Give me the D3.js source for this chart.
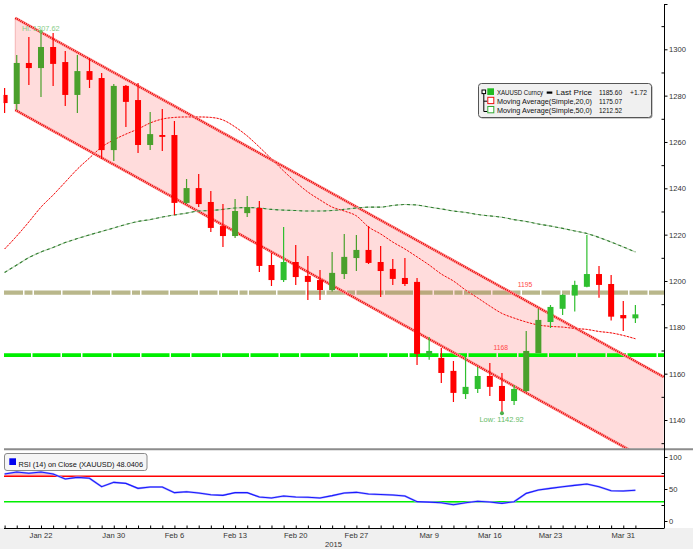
<!DOCTYPE html>
<html><head><meta charset="utf-8">
<script src="https://cdn.jsdelivr.net/npm/d3@7/dist/d3.min.js"></script>
<style>body{margin:0;background:#fff;}svg{display:block;}</style>
</head><body>
<svg id="chart" width="693" height="549"></svg>
<script>
// ---------------- DATA ----------------
const dates = ["2015-01-19","2015-01-20","2015-01-21","2015-01-22","2015-01-23","2015-01-26","2015-01-27","2015-01-28","2015-01-29","2015-01-30",
"2015-02-02","2015-02-03","2015-02-04","2015-02-05","2015-02-06","2015-02-09","2015-02-10","2015-02-11","2015-02-12","2015-02-13",
"2015-02-16","2015-02-17","2015-02-18","2015-02-19","2015-02-20","2015-02-23","2015-02-24","2015-02-25","2015-02-26","2015-02-27",
"2015-03-02","2015-03-03","2015-03-04","2015-03-05","2015-03-06","2015-03-09","2015-03-10","2015-03-11","2015-03-12","2015-03-13",
"2015-03-16","2015-03-17","2015-03-18","2015-03-19","2015-03-20","2015-03-23","2015-03-24","2015-03-25","2015-03-26","2015-03-27",
"2015-03-30","2015-03-31","2015-04-01"];
const open  = [1280.3,1276.4,1294.1,1291.9,1301.0,1294.5,1280.3,1290.6,1287.6,1256.5,1284.2,1278.1,1258.7,1263.0,1263.0,1233.7,1240.1,1234.1,1223.7,1219.4,
1229.3,1231.5,1206.9,1200.4,1208.2,1202.2,1200.4,1196.1,1203.0,1209.9,1213.4,1208.2,1205.2,1201.3,1199.6,1167.8,1166.8,1161.2,1151.2,1153.4,
1159.0,1154.7,1148.2,1152.5,1168.9,1182.3,1188.0,1193.7,1197.5,1203.0,1198.7,1185.3,1183.88];
const high  = [1283.3,1297.5,1305.3,1307.62,1307.0,1299.3,1297.5,1296.2,1289.8,1285.0,1284.6,1285.5,1272.9,1274.2,1269.1,1244.0,1246.2,1238.8,1233.2,1235.4,
1236.7,1234.5,1212.1,1223.3,1215.5,1210.8,1204.7,1212.5,1220.3,1219.9,1223.7,1215.1,1209.5,1209.9,1201.3,1175.8,1171.1,1165.5,1167.2,1162.9,
1164.6,1160.3,1155.1,1178.4,1187.9,1189.6,1194.3,1200.1,1219.9,1206.5,1202.6,1191.4,1189.6];
const low   = [1272.5,1273.8,1284.6,1279.4,1284.2,1275.5,1272.5,1283.3,1252.7,1251.8,1266.5,1255.2,1256.5,1256.1,1228.5,1233.2,1231.9,1221.1,1214.7,1218.6,
1227.6,1203.9,1197.8,1199.6,1198.3,1191.8,1191.8,1195.5,1200.9,1204.3,1207.3,1193.1,1198.3,1197.8,1163.7,1166.0,1156.0,1147.8,1149.1,1151.7,
1150.4,1142.92,1146.5,1152.0,1168.9,1179.7,1185.3,1186.8,1197.3,1192.8,1182.9,1178.4,1181.9];
const close = [1276.8,1294.1,1291.9,1301.0,1293.7,1280.3,1290.6,1286.8,1256.5,1284.2,1277.3,1258.7,1263.4,1262.2,1233.7,1240.1,1233.2,1222.9,1219.4,1230.2,
1231.9,1206.5,1200.4,1208.2,1201.7,1199.6,1196.1,1203.5,1210.4,1213.4,1207.8,1204.3,1200.9,1198.7,1168.5,1169.8,1160.3,1151.7,1154.3,1159.0,
1154.3,1148.2,1153.4,1169.8,1183.2,1188.8,1194.0,1198.3,1203.0,1198.3,1184.6,1183.88,1185.60];
// up-candles that Bloomberg draws in the darker green shade
const darkUpIdx = [1,3,6,9,12,15,19,20,27,28,29,43,44];
const ma20 = [1213.8,1219.4,1225.5,1231.9,1237.1,1242.7,1248.3,1253.1,1257.8,1260.9,1263.4,1265.6,1268.2,1269.9,1270.6,1270.8,1270.8,1270.6,1269.5,1266.5,
1262.6,1257.8,1252.7,1247.5,1242.7,1238.4,1235.0,1231.9,1230.2,1228.1,1223.3,1220.3,1216.8,1213.8,1210.4,1206.9,1203.0,1200.0,1196.1,1192.7,
1189.2,1186.0,1184.0,1182.3,1181.0,1180.4,1180.1,1179.5,1179.1,1178.2,1177.6,1176.5,1175.07];
const ma50 = [1203.7,1206.9,1210.1,1212.5,1214.5,1216.6,1218.3,1219.9,1221.4,1222.9,1224.4,1225.7,1226.5,1227.6,1228.5,1229.3,1230.2,1230.4,1230.9,1231.5,
1231.7,1231.5,1230.9,1230.6,1230.4,1230.2,1230.2,1230.4,1230.9,1231.5,1231.9,1231.9,1232.6,1233.0,1232.8,1231.9,1231.1,1230.2,1229.6,1228.7,
1228.1,1227.5,1226.5,1225.7,1224.6,1223.7,1222.7,1221.6,1220.5,1218.8,1216.8,1214.7,1212.52];
const rsi = [73.4,76.6,74.5,76.6,73.5,65.6,68.2,66.7,53.6,60.4,58.8,51.0,53.1,53.1,44.3,45.8,43.8,41.1,40.1,44.3,
44.3,37.5,35.9,39.1,37.5,37.0,35.9,39.6,43.8,44.8,42.2,41.5,40.6,39.1,30.2,29.5,28.6,25.5,28.6,30.8,
29.7,27.6,30.2,43.2,48.4,51.0,53.6,55.7,57.8,53.6,47.3,46.9,48.0406];
const priceTicks = [1140,1160,1180,1200,1220,1240,1260,1280,1300];
const priceMinorTicks = [1130,1150,1170,1190,1210,1230,1250,1270,1290,1310];
const rsiTicks = [0,50,100];
const rsiMinorTicks = [25,75];
const rsiLevels = [70,30];
const dateTickLabels = ["2015-01-22","2015-01-30","2015-02-06","2015-02-13","2015-02-20","2015-02-27","2015-03-09","2015-03-16","2015-03-23","2015-03-31"];
const yearLabel = "2015";
const levelLines = [1195,1168];
// trend channel: [fractional bar index, price] of upper line ends, plus channel width in price
const channelIdx = [0.88,54.33];
const channelUpper = [1313.5,1158.6];
const channelWidth = 39.7;
const hiLabel = "Hi: 1307.62", loLabel = "Low: 1142.92";
const legendNames = ["XAUUSD Curncy","Moving Average(Simple,20,0)","Moving Average(Simple,50,0)"];
const legendValues = ["1185.60","1175.07","1212.52"];
const legendChange = "+1.72";
const rsiLegend = "RSI (14) on Close (XAUUSD) 48.0406";

// ---------------- LAYOUT ----------------
const svg = d3.select("#chart");
const FONT = "'Liberation Sans', Arial, sans-serif";
const RED = "#ff0000", GREEN = "#2fbf2f", DGREEN = "#4aa02c";
const plotL = 3.5, plotR = 664, priceBottom = 448.5, rsiTop = 450.5, axisY = 528;

const x = d3.scaleLinear().domain([0, dates.length - 1]).range([4.6, 635.4]);
const yP = d3.scaleLinear().domain([1140, 1300]).range([420, 49.3]);
const yR = d3.scaleLinear().domain([0, 100]).range([521, 457]);
const parse = d3.timeParse("%Y-%m-%d"), fmt = d3.timeFormat("%b %-d");

const defs = svg.append("defs");
defs.append("clipPath").attr("id","cp").append("rect")
  .attr("x",plotL).attr("y",0).attr("width",plotR-plotL).attr("height",priceBottom);
defs.append("clipPath").attr("id","cr").append("rect")
  .attr("x",plotL).attr("y",rsiTop).attr("width",plotR-plotL).attr("height",axisY-rsiTop);
defs.append("clipPath").attr("id","above70").append("rect")
  .attr("x",plotL).attr("y",rsiTop).attr("width",plotR-plotL).attr("height",yR(70)-rsiTop);
defs.append("clipPath").attr("id","below30").append("rect")
  .attr("x",plotL).attr("y",yR(30)).attr("width",plotR-plotL).attr("height",axisY-yR(30));

// bottom grey band
svg.append("rect").attr("x",0).attr("y",axisY).attr("width",693).attr("height",549-axisY).attr("fill","#f0f0f0");

// ---------------- PRICE PANEL ----------------
const gp = svg.append("g").attr("clip-path","url(#cp)");
const xs = channelIdx.map(x);
const up = channelUpper.map(yP);
const lo = channelUpper.map(v => yP(v - channelWidth));
gp.append("path")
  .attr("d", `M${xs[0]},${up[0]}L${xs[1]},${up[1]}L${xs[1]},${lo[1]}L${xs[0]},${lo[0]}Z`)
  .attr("fill","#ffdcdc");
gp.append("line").attr("x1",xs[0]).attr("x2",xs[0]).attr("y1",up[0]).attr("y2",lo[0])
  .attr("stroke","#f4b4b4").attr("stroke-width",1);

// horizontal levels
gp.append("line").attr("x1",4).attr("x2",plotR).attr("y1",yP(levelLines[0])).attr("y2",yP(levelLines[0]))
  .attr("stroke","#8a873d").attr("stroke-opacity",0.6).attr("stroke-width",4.2)
  .attr("stroke-dasharray","19,1.5,8,1.5,27,1.5,28,1.5,18,1.5");
gp.append("line").attr("x1",4).attr("x2",plotR).attr("y1",yP(levelLines[1])).attr("y2",yP(levelLines[1]))
  .attr("stroke","#00ee00").attr("stroke-width",3.8)
  .attr("stroke-dasharray","27,1.5,28,1.5,19,1.5,29,1.5");
const lvlLabelIdx = [42.3, 40.3];
levelLines.forEach((v,k) => {
  gp.append("text").attr("x", x(lvlLabelIdx[k])).attr("y", yP(v) - 5.5)
    .attr("font-family",FONT).attr("font-size",6.8).attr("fill","#ff4a4a").text(String(v));
});

// channel borders
[[up[0],up[1]],[lo[0],lo[1]]].forEach(([a,b]) => {
  gp.append("line").attr("x1",xs[0]).attr("y1",a).attr("x2",xs[1]).attr("y2",b)
    .attr("stroke","#ff9c9c").attr("stroke-width",3);
  gp.append("line").attr("x1",xs[0]).attr("y1",a).attr("x2",xs[1]).attr("y2",b)
    .attr("stroke","#e80000").attr("stroke-width",2).attr("stroke-dasharray","1,1");
});

// moving averages
const lineP = arr => d3.line().x((d,i)=>x(i)).y(d=>yP(d)).curve(d3.curveMonotoneX)(arr);
gp.append("path").attr("d",lineP(ma50)).attr("fill","none").attr("stroke","#b5cfae").attr("stroke-width",1.1);
gp.append("path").attr("d",lineP(ma50)).attr("fill","none").attr("stroke","#2e7d2e").attr("stroke-width",1.1).attr("stroke-dasharray","3,3");
gp.append("path").attr("d",lineP(ma20)).attr("fill","none").attr("stroke","#ffb0b0").attr("stroke-width",1);
gp.append("path").attr("d",lineP(ma20)).attr("fill","none").attr("stroke","#f01010").attr("stroke-width",1).attr("stroke-dasharray","2,1.5");

// candles
const candles = gp.selectAll("g.c").data(dates).join("g").attr("class","c");
const col = i => close[i] < open[i] ? RED : (darkUpIdx.includes(i) ? DGREEN : GREEN);
candles.append("line")
  .attr("x1",(d,i)=>x(i)).attr("x2",(d,i)=>x(i))
  .attr("y1",(d,i)=>yP(high[i])).attr("y2",(d,i)=>yP(low[i]))
  .attr("stroke",(d,i)=>col(i)).attr("stroke-width",1.2);
candles.append("rect")
  .attr("x",(d,i)=>x(i)-3).attr("width",6)
  .attr("y",(d,i)=>yP(Math.max(open[i],close[i])))
  .attr("height",(d,i)=>Math.max(1.5, Math.abs(yP(open[i])-yP(close[i]))))
  .attr("fill",(d,i)=>col(i));

// hi / low annotations
const hiI = high.indexOf(d3.max(high)), loI = low.indexOf(d3.min(low));
gp.append("circle").attr("cx",x(hiI)).attr("cy",yP(high[hiI])).attr("r",1.8).attr("fill","#6cbf5a");
gp.append("text").attr("x",x(hiI)-19).attr("y",yP(high[hiI])-1).attr("font-family",FONT).attr("font-size",7.6)
  .attr("fill","#86cc86").attr("textLength",37.6).attr("lengthAdjust","spacingAndGlyphs").text(hiLabel);
gp.append("circle").attr("cx",x(loI)).attr("cy",yP(low[loI])).attr("r",2).attr("fill","#4db04d");
gp.append("text").attr("x",x(loI)-22.5).attr("y",yP(low[loI])+8.5).attr("font-family",FONT).attr("font-size",7.6)
  .attr("fill","#66bb66").attr("textLength",44.3).attr("lengthAdjust","spacingAndGlyphs").text(loLabel);

// legend
const lg = svg.append("g");
lg.append("rect").attr("x",479.5).attr("y",84.5).attr("width",173).attr("height",34).attr("rx",3).attr("fill","#999");
lg.append("rect").attr("x",478.5).attr("y",83.5).attr("width",173).attr("height",34).attr("rx",3)
  .attr("fill","#f0f0f0").attr("stroke","#555").attr("stroke-width",1);
const rowY = [95.3,103.8,112.8];
lg.append("rect").attr("x",482).attr("y",90).attr("width",3.6).attr("height",3.6).attr("fill","#fff").attr("stroke","#000").attr("stroke-width",1);
lg.append("path").attr("d","M483.8,94V111.5M483.8,101.2H487.3M483.8,111.5H487.3").attr("stroke","#000").attr("stroke-width",1).attr("fill","none");
lg.append("rect").attr("x",487.3).attr("y",88.3).attr("width",6.7).attr("height",6.7).attr("fill","#22bb22");
lg.append("rect").attr("x",487.8).attr("y",97.3).attr("width",6).attr("height",6.3).attr("fill","#fff").attr("stroke","#ee1111").attr("stroke-width",1);
lg.append("rect").attr("x",487.8).attr("y",106.5).attr("width",6).attr("height",6.3).attr("fill","#fff").attr("stroke","#33aa33").attr("stroke-width",1);
const lt = (tx,ty,s,w) => lg.append("text").attr("x",tx).attr("y",ty).attr("font-family",FONT).attr("font-size",7.8)
  .attr("fill","#111").attr("textLength",w).attr("lengthAdjust","spacingAndGlyphs").text(s);
lt(497,rowY[0],legendNames[0],46);
lg.append("rect").attr("x",546.7).attr("y",91.5).attr("width",5.6).attr("height",2.2).attr("fill","#000");
lt(556,rowY[0],"Last Price",36);
lt(599,rowY[0],legendValues[0],23);
lt(630,rowY[0],legendChange,17);
lt(497,rowY[1],legendNames[1],95);
lt(599,rowY[1],legendValues[1],23);
lt(497,rowY[2],legendNames[2],95);
lt(599,rowY[2],legendValues[2],23);

// ---------------- RSI PANEL ----------------
svg.append("line").attr("x1",4).attr("x2",693).attr("y1",449.3).attr("y2",449.3).attr("stroke","#8c8c8c").attr("stroke-width",2);
const gr = svg.append("g").attr("clip-path","url(#cr)");
const rsiLine = d3.line().x((d,i)=>x(i)).y(d=>yR(d));
gr.append("path").attr("clip-path","url(#above70)")
  .attr("d", d3.area().x((d,i)=>x(i)).y0(yR(70)).y1(d=>yR(d))(rsi)).attr("fill","#ffc4c4");
gr.append("path").attr("clip-path","url(#below30)")
  .attr("d", d3.area().x((d,i)=>x(i)).y0(yR(30)).y1(d=>yR(d))(rsi)).attr("fill","#c4f0c4");
gr.append("line").attr("x1",4).attr("x2",plotR).attr("y1",yR(rsiLevels[0])).attr("y2",yR(rsiLevels[0])).attr("stroke","#ff0000").attr("stroke-width",1.5);
gr.append("line").attr("x1",4).attr("x2",plotR).attr("y1",yR(rsiLevels[1])).attr("y2",yR(rsiLevels[1])).attr("stroke","#00ee00").attr("stroke-width",1.5);
gr.append("path").attr("d",rsiLine(rsi)).attr("fill","none").attr("stroke","#a8a8ff").attr("stroke-width",2);
gr.append("path").attr("d",rsiLine(rsi)).attr("fill","none").attr("stroke","#1a1aff").attr("stroke-width",1.1);

// RSI legend
svg.append("rect").attr("x",4.5).attr("y",453.5).attr("width",142.5).attr("height",17).attr("rx",2.5)
  .attr("fill","#f5f5f5").attr("stroke","#8a8a8a");
svg.append("rect").attr("x",9.3).attr("y",458.3).attr("width",6.7).attr("height",6.7).attr("fill","#0000ee");
svg.append("text").attr("x",18.5).attr("y",466.5).attr("font-family",FONT).attr("font-size",8).attr("fill","#111")
  .attr("textLength",124.5).attr("lengthAdjust","spacingAndGlyphs").text(rsiLegend);

// ---------------- AXES ----------------
const ax = svg.append("g").attr("stroke","#000").attr("stroke-width",1);
ax.append("line").attr("x1",plotR+0.5).attr("x2",plotR+0.5).attr("y1",4).attr("y2",axisY);
ax.append("line").attr("x1",plotR+0.5).attr("x2",plotR+3.5).attr("y1",4.5).attr("y2",4.5);
ax.append("line").attr("x1",4).attr("x2",plotR+0.5).attr("y1",axisY+0.5).attr("y2",axisY+0.5);

const yAxisP = d3.axisRight(yP).tickValues(priceTicks).tickSize(3).tickPadding(1.5).tickFormat(d3.format("d"));
const gYa = svg.append("g").attr("transform",`translate(${plotR+0.5},0)`).call(yAxisP);
const yAxisPm = d3.axisLeft(yP).tickValues(priceMinorTicks).tickSize(3).tickFormat("");
const gYm = svg.append("g").attr("transform",`translate(${plotR+0.5},0)`).call(yAxisPm);
const yAxisR = d3.axisRight(yR).tickValues(rsiTicks).tickSize(3).tickPadding(1.5).tickFormat(d3.format("d"));
const gYr = svg.append("g").attr("transform",`translate(${plotR+0.5},0)`).call(yAxisR);
const yAxisRm = d3.axisLeft(yR).tickValues(rsiMinorTicks).tickSize(3).tickFormat("");
const gYrm = svg.append("g").attr("transform",`translate(${plotR+0.5},0)`).call(yAxisRm);

const tickIdx = dateTickLabels.map(d => dates.indexOf(d));
const xAxis = d3.axisBottom(x).tickValues(d3.range(dates.length)).tickSize(-3).tickFormat("");
const gX = svg.append("g").attr("transform",`translate(0,${axisY+0.5})`).call(xAxis);
[gYa,gYm,gYr,gYrm,gX].forEach(g => {
  g.select(".domain").remove();
  g.selectAll("line").attr("stroke","#000");
  g.selectAll("text").attr("font-family",FONT).attr("font-size",7.6).attr("fill","#333");
});
svg.append("g").selectAll("text").data(tickIdx).join("text")
  .attr("x",i=>x(i)).attr("y",538).attr("text-anchor","middle")
  .attr("font-family",FONT).attr("font-size",7.6).attr("fill","#333")
  .text(i=>fmt(parse(dates[i])));
svg.append("text").attr("x",333.5).attr("y",547).attr("text-anchor","middle")
  .attr("font-family",FONT).attr("font-size",7.6).attr("fill","#333").text(yearLabel);
</script>
</body></html>
